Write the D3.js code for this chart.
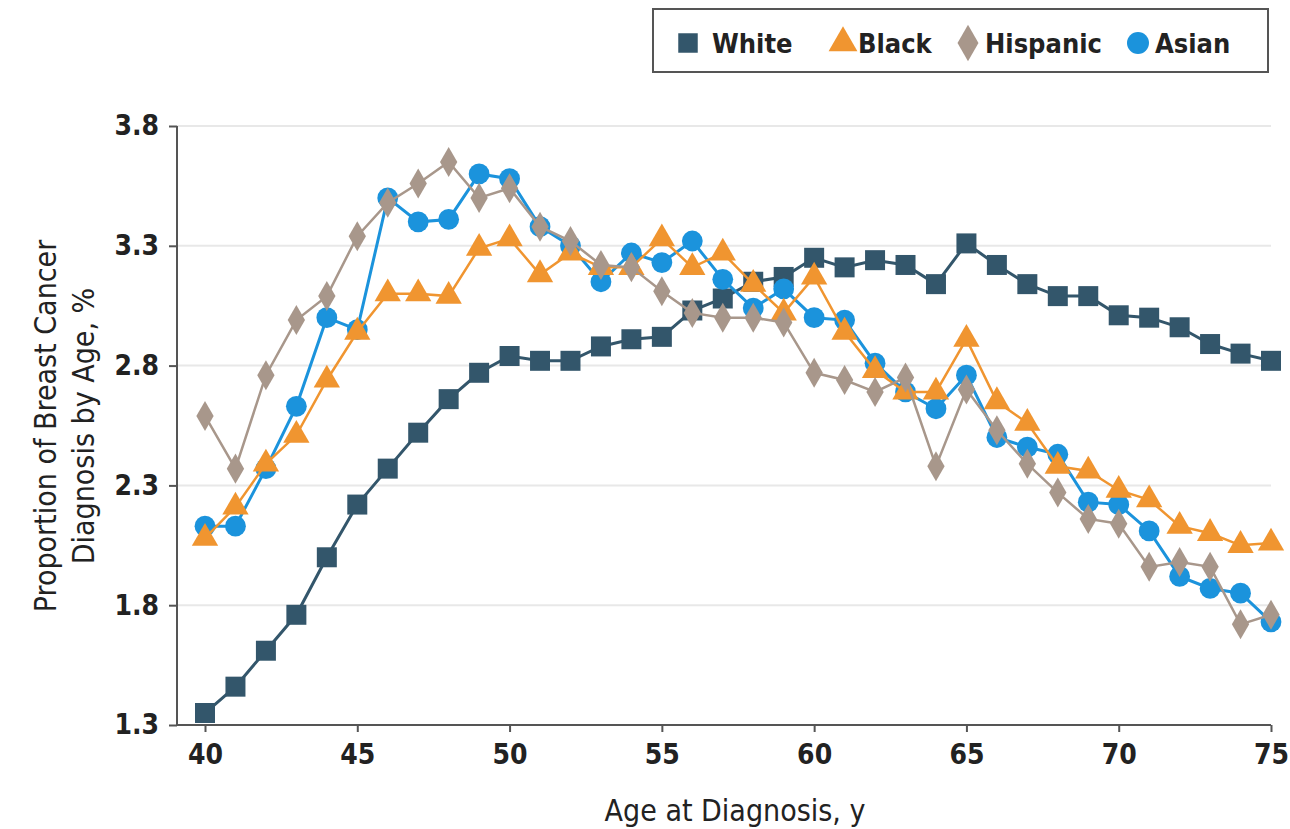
<!DOCTYPE html>
<html>
<head>
<meta charset="utf-8">
<script src="https://cdn.jsdelivr.net/npm/d3@7"></script>
<style>
  body { margin: 0; background: #fff; }
  text { font-family: "DejaVu Sans Condensed", "DejaVu Sans", sans-serif; fill: #222; }
</style>
</head>
<body>
<div id="chart"></div>
<script>
const ages = d3.range(40, 76);
const white = [1.35, 1.46, 1.61, 1.76, 2.00, 2.22, 2.37, 2.52, 2.66, 2.77, 2.84, 2.82, 2.82, 2.88, 2.91, 2.92, 3.03, 3.08, 3.15, 3.17, 3.25, 3.21, 3.24, 3.22, 3.14, 3.31, 3.22, 3.14, 3.09, 3.09, 3.01, 3.00, 2.96, 2.89, 2.85, 2.82];
const black = [2.08, 2.21, 2.39, 2.51, 2.74, 2.94, 3.10, 3.10, 3.09, 3.29, 3.33, 3.18, 3.27, 3.21, 3.21, 3.33, 3.21, 3.27, 3.14, 3.02, 3.17, 2.94, 2.78, 2.69, 2.69, 2.91, 2.65, 2.56, 2.38, 2.36, 2.28, 2.24, 2.13, 2.10, 2.05, 2.06];
const hispanic = [2.59, 2.37, 2.76, 2.99, 3.09, 3.34, 3.48, 3.56, 3.65, 3.50, 3.54, 3.38, 3.32, 3.22, 3.21, 3.11, 3.02, 3.00, 3.00, 2.98, 2.77, 2.74, 2.69, 2.75, 2.38, 2.70, 2.53, 2.39, 2.27, 2.16, 2.14, 1.96, 1.98, 1.96, 1.72, 1.76];
const asian = [2.13, 2.13, 2.37, 2.63, 3.00, 2.95, 3.50, 3.40, 3.41, 3.60, 3.58, 3.38, 3.30, 3.15, 3.27, 3.23, 3.32, 3.16, 3.04, 3.12, 3.00, 2.99, 2.81, 2.69, 2.62, 2.76, 2.50, 2.46, 2.43, 2.23, 2.22, 2.11, 1.92, 1.87, 1.85, 1.73];
const yTicks = [1.3, 1.8, 2.3, 2.8, 3.3, 3.8];
const xTicks = [40, 45, 50, 55, 60, 65, 70, 75];

const series = [
  { name: "White", values: white, color: "#33566b", shape: d3.symbolSquare, size: 400, lw: 3 },
  { name: "Asian", values: asian, color: "#1b93dc", shape: d3.symbolCircle, size: 340, lw: 3 },
  { name: "Black", values: black, color: "#f09530", shape: d3.symbolTriangle, size: 300, lw: 2.5 },
  { name: "Hispanic", values: hispanic, color: "#a8978b", shape: d3.symbolDiamond, size: 260, lw: 2.5 }
];
const legendOrder = ["White", "Black", "Hispanic", "Asian"];

const width = 1290, height = 829;
const svg = d3.select("#chart").append("svg")
  .attr("width", width)
  .attr("height", height);

const x = d3.scaleLinear().domain([40, 75]).range([205, 1271]);
const y = d3.scaleLinear().domain([1.3, 3.8]).range([725, 126]);
const axisLeftX = 177;

// grid
svg.append("g").selectAll("line")
  .data(yTicks.slice(1))
  .enter()
  .append("line")
  .attr("x1", axisLeftX)
  .attr("x2", 1271)
  .attr("y1", (d) => y(d))
  .attr("y2", (d) => y(d))
  .attr("stroke", "#e8e8e8")
  .attr("stroke-width", 2);

// axes
const gx = svg.append("g")
  .attr("transform", `translate(0, ${y(1.3)})`);
gx.append("line")
  .attr("x1", axisLeftX).attr("x2", x(75))
  .attr("stroke", "#555").attr("stroke-width", 2);
gx.call(d3.axisBottom(x).tickValues(xTicks).tickSize(7).tickPadding(12))
  .call((g) => g.select(".domain").remove())
  .selectAll("text")
  .attr("font-size", 28)
  .attr("font-weight", "bold");
gx.selectAll(".tick line").attr("stroke", "#555").attr("stroke-width", 2);

const gy = svg.append("g")
  .attr("transform", `translate(${axisLeftX}, 0)`)
  .call(d3.axisLeft(y).tickValues(yTicks).tickFormat(d3.format(".1f")).tickSize(8).tickPadding(10))
  .call((g) => g.select(".domain").attr("stroke", "#555").attr("stroke-width", 2).attr("d", `M0,${y(3.8)}V${y(1.3)}`));
gy.selectAll("text")
  .attr("font-size", 28)
  .attr("font-weight", "bold");
gy.selectAll(".tick line").attr("stroke", "#555").attr("stroke-width", 2);

// titles
svg.append("text")
  .attr("x", 735)
  .attr("y", 821)
  .attr("text-anchor", "middle")
  .attr("font-size", 30)
  .text("Age at Diagnosis, y");

const yt = svg.append("text")
  .attr("transform", "translate(64, 426) rotate(-90)")
  .attr("text-anchor", "middle")
  .attr("font-size", 30);
yt.append("tspan").attr("x", 0).attr("dy", -8).text("Proportion of Breast Cancer");
yt.append("tspan").attr("x", 0).attr("dy", 38).text("Diagnosis by Age, %");

// series
series.forEach((s) => {
  const pts = ages.map((a, i) => ({ age: a, value: s.values[i] }));
  const line = d3.line().x((d) => x(d.age)).y((d) => y(d.value));
  const g = svg.append("g");
  g.append("path")
    .datum(pts)
    .attr("fill", "none")
    .attr("stroke", s.color)
    .attr("stroke-width", s.lw)
    .attr("d", line);
  g.selectAll("path.m")
    .data(pts)
    .enter()
    .append("path")
    .attr("class", "m")
    .attr("transform", (d) => `translate(${x(d.age)}, ${y(d.value)})`)
    .attr("d", d3.symbol().type(s.shape).size(s.size))
    .attr("fill", s.color);
});

// legend
const legend = svg.append("g");
legend.append("rect")
  .attr("x", 653).attr("y", 9)
  .attr("width", 615).attr("height", 63)
  .attr("fill", "#fff")
  .attr("stroke", "#555")
  .attr("stroke-width", 2);
const legendX = [688, 843, 968, 1138];
const legendTextX = [712, 858, 985, 1155];
legendOrder.forEach((name, i) => {
  const s = series.find((d) => d.name === name);
  legend.append("path")
    .attr("transform", `translate(${legendX[i]}, 43)`)
    .attr("d", d3.symbol().type(s.shape).size(s.shape === d3.symbolTriangle ? 360 : 380))
    .attr("fill", s.color);
  legend.append("text")
    .attr("x", legendTextX[i])
    .attr("y", 53)
    .attr("font-size", 27)
    .attr("font-weight", "bold")
    .text(name);
});
</script>
</body>
</html>
